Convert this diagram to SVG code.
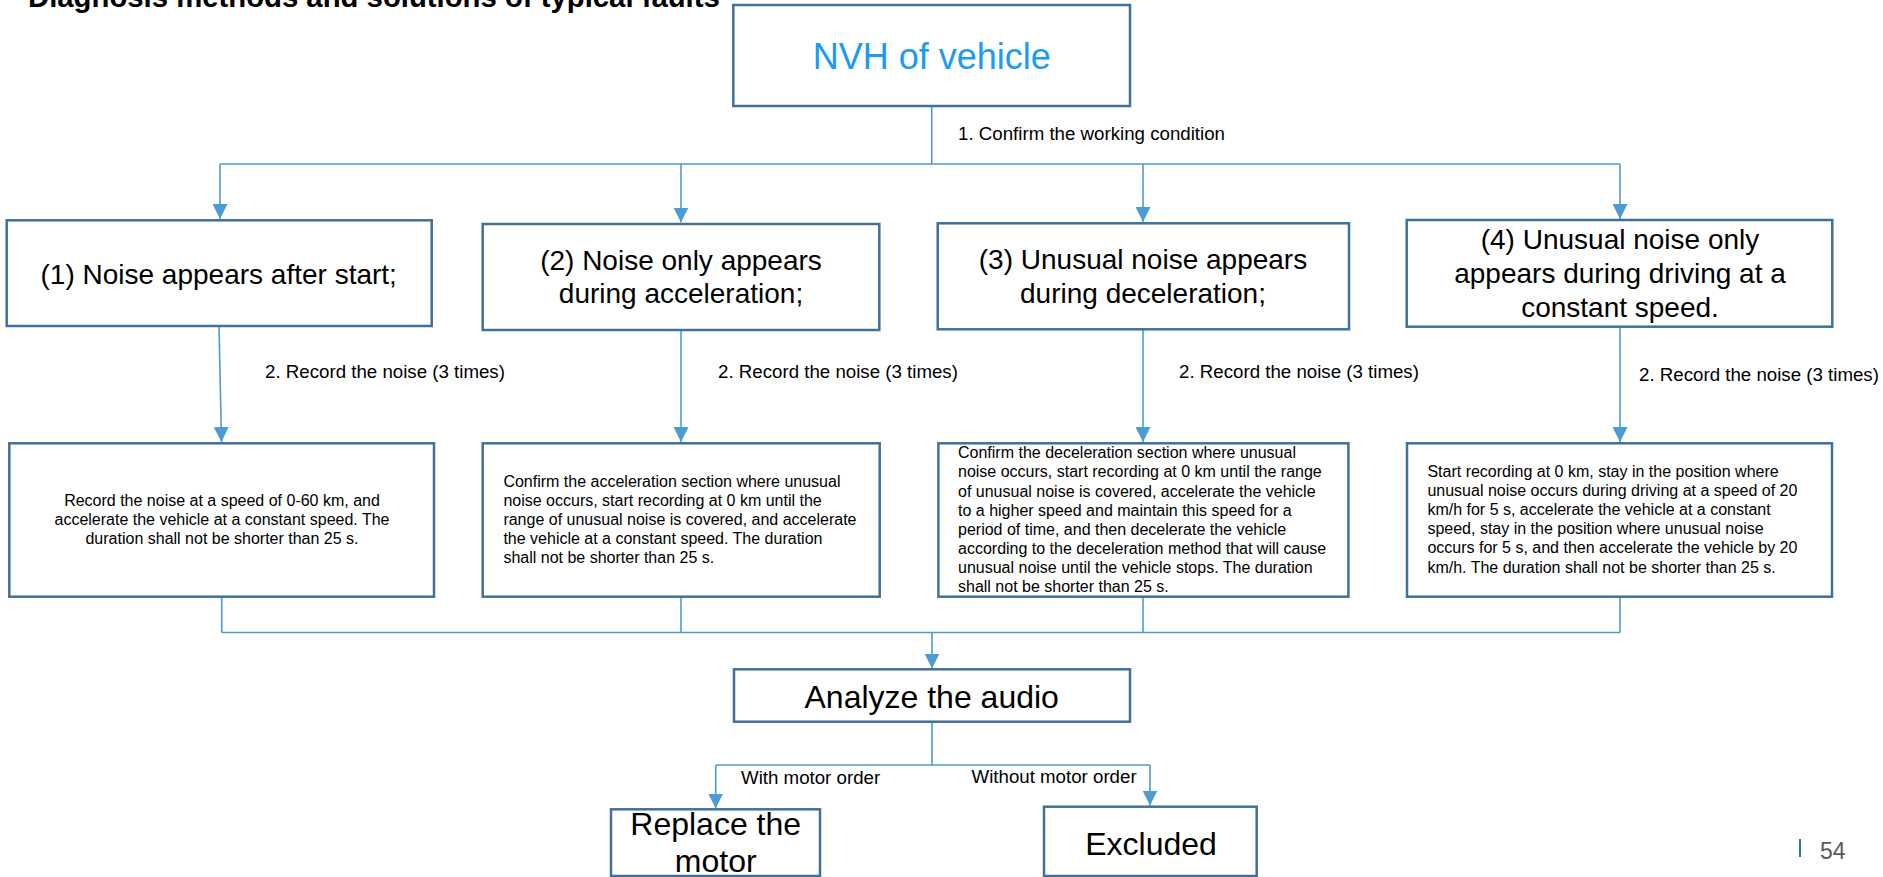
<svg xmlns="http://www.w3.org/2000/svg" width="1883" height="877" viewBox="0 0 1883 877">
<style>
  .box { fill: #ffffff; stroke: #40709A; stroke-width: 2.5; }
  .conn { fill: none; stroke: #4B9CD3; stroke-width: 1.6; }
  .t { font-family: "Liberation Sans", Arial, sans-serif; fill: #000000; }
  .h28 { font-size: 28px; text-anchor: middle; }
  .h32 { font-size: 32px; text-anchor: middle; }
  .lbl { font-size: 18.7px; }
  .d16 { font-size: 16px; }
  .mid { text-anchor: middle; }
</style>
<defs>
  <marker id="arr" markerUnits="userSpaceOnUse" viewBox="0 0 15 15" markerWidth="15" markerHeight="15" refX="15" refY="7.5" orient="auto">
    <path d="M0,0 L15,7.5 L0,15 z" fill="#4B9CD3"/>
  </marker>
</defs>
<rect width="1883" height="877" fill="#ffffff"/>

<text id="title" class="t" x="28" y="7" font-size="29.3px" font-weight="bold">Diagnosis methods and solutions of typical faults</text>

<g id="connectors">
  <path class="conn" d="M931.7,106 V164"/>
  <path class="conn" d="M220,164 H1620"/>
  <path class="conn" d="M220,164 V219" marker-end="url(#arr)"/>
  <path class="conn" d="M681,164 V222.5" marker-end="url(#arr)"/>
  <path class="conn" d="M1143,164 V222" marker-end="url(#arr)"/>
  <path class="conn" d="M1620,164 V219" marker-end="url(#arr)"/>
  <path class="conn" d="M219,326 L221.5,442" marker-end="url(#arr)"/>
  <path class="conn" d="M681,330 V442" marker-end="url(#arr)"/>
  <path class="conn" d="M1143,329.5 V442" marker-end="url(#arr)"/>
  <path class="conn" d="M1620,327 V442" marker-end="url(#arr)"/>
  <path class="conn" d="M221.7,597 V632.5 M681,597 V632.5 M1143,597 V632.5 M1620,597 V632.5"/>
  <path class="conn" d="M221.7,632.5 H1620"/>
  <path class="conn" d="M932,632.5 V668.5" marker-end="url(#arr)"/>
  <path class="conn" d="M932,722 V765 M715.7,765 H1150"/>
  <path class="conn" d="M715.7,765 V808.5" marker-end="url(#arr)"/>
  <path class="conn" d="M1150,765 V805.5" marker-end="url(#arr)"/>
  <text class="t lbl" x="958" y="140">1. Confirm the working condition</text>
  <text class="t lbl" x="265" y="378">2. Record the noise (3 times)</text>
  <text class="t lbl" x="718" y="378">2. Record the noise (3 times)</text>
  <text class="t lbl" x="1179" y="378">2. Record the noise (3 times)</text>
  <text class="t lbl" x="1639" y="380.5">2. Record the noise (3 times)</text>
  <text class="t lbl" x="741" y="784">With motor order</text>
  <text class="t lbl" x="971.5" y="782.5">Without motor order</text>
</g>

<g id="nvh">
  <rect class="box" x="733.3" y="5" width="396.7" height="101"/>
  <text class="t" x="931.7" y="69" font-size="36px" text-anchor="middle" fill="#1A9BF6" style="fill:#1A9BF6">NVH of vehicle</text>
</g>

<g id="case1">
  <rect class="box" x="6.7" y="220.3" width="425" height="105.7"/>
  <text class="t h28" x="218.7" y="284">(1) Noise appears after start;</text>
</g>
<g id="case2">
  <rect class="box" x="482.7" y="224" width="396.6" height="106"/>
  <text class="t h28" x="681" y="270">(2) Noise only appears</text>
  <text class="t h28" x="681" y="303.3">during acceleration;</text>
</g>
<g id="case3">
  <rect class="box" x="937.7" y="223.3" width="411.3" height="106"/>
  <text class="t h28" x="1143" y="269.3">(3) Unusual noise appears</text>
  <text class="t h28" x="1143" y="303.3">during deceleration;</text>
</g>
<g id="case4">
  <rect class="box" x="1406.7" y="220" width="425.6" height="106.7"/>
  <text class="t h28" x="1620" y="249.3">(4) Unusual noise only</text>
  <text class="t h28" x="1620" y="283.3">appears during driving at a</text>
  <text class="t h28" x="1620" y="316.7">constant speed.</text>
</g>

<g id="rec1">
  <rect class="box" x="9.3" y="443.3" width="424.7" height="153.4"/>
  <text class="t d16 mid" x="222" y="506">Record the noise at a speed of 0-60 km, and</text>
  <text class="t d16 mid" x="222" y="525.2">accelerate the vehicle at a constant speed. The</text>
  <text class="t d16 mid" x="222" y="544.4">duration shall not be shorter than 25 s.</text>
</g>
<g id="rec2">
  <rect class="box" x="482.7" y="443.3" width="397" height="153.4"/>
  <text class="t d16" x="503.4" y="486.5">Confirm the acceleration section where unusual</text>
  <text class="t d16" x="503.4" y="505.7">noise occurs, start recording at 0 km until the</text>
  <text class="t d16" x="503.4" y="524.9">range of unusual noise is covered, and accelerate</text>
  <text class="t d16" x="503.4" y="544.1">the vehicle at a constant speed. The duration</text>
  <text class="t d16" x="503.4" y="563.3">shall not be shorter than 25 s.</text>
</g>
<g id="rec3">
  <rect class="box" x="938.4" y="443.3" width="410" height="153.4"/>
  <text class="t d16" x="958" y="458.3">Confirm the deceleration section where unusual</text>
  <text class="t d16" x="958" y="477.4">noise occurs, start recording at 0 km until the range</text>
  <text class="t d16" x="958" y="496.5">of unusual noise is covered, accelerate the vehicle</text>
  <text class="t d16" x="958" y="515.6">to a higher speed and maintain this speed for a</text>
  <text class="t d16" x="958" y="534.7">period of time, and then decelerate the vehicle</text>
  <text class="t d16" x="958" y="553.8">according to the deceleration method that will cause</text>
  <text class="t d16" x="958" y="572.9">unusual noise until the vehicle stops. The duration</text>
  <text class="t d16" x="958" y="592">shall not be shorter than 25 s.</text>
</g>
<g id="rec4">
  <rect class="box" x="1407" y="443.3" width="425" height="153.4"/>
  <text class="t d16" x="1427.4" y="477">Start recording at 0 km, stay in the position where</text>
  <text class="t d16" x="1427.4" y="496.1">unusual noise occurs during driving at a speed of 20</text>
  <text class="t d16" x="1427.4" y="515.2">km/h for 5 s, accelerate the vehicle at a constant</text>
  <text class="t d16" x="1427.4" y="534.3">speed, stay in the position where unusual noise</text>
  <text class="t d16" x="1427.4" y="553.4">occurs for 5 s, and then accelerate the vehicle by 20</text>
  <text class="t d16" x="1427.4" y="572.5">km/h. The duration shall not be shorter than 25 s.</text>
</g>

<g id="analyze">
  <rect class="box" x="734" y="669.3" width="396" height="52.4"/>
  <text class="t h32" x="931.7" y="708.3">Analyze the audio</text>
</g>
<g id="replace">
  <rect class="box" x="611" y="809.3" width="209" height="66.7"/>
  <text class="t h32" x="715.7" y="835">Replace the</text>
  <text class="t h32" x="715.7" y="872">motor</text>
</g>
<g id="excluded">
  <rect class="box" x="1044" y="806.7" width="212.7" height="69.3"/>
  <text class="t h32" x="1151" y="855">Excluded</text>
</g>

<g id="pagenum">
  <line x1="1800" y1="839" x2="1800" y2="857" stroke="#2E75B6" stroke-width="2"/>
  <text class="t" x="1820" y="859" font-size="23px" style="fill:#595959">54</text>
</g>
</svg>
